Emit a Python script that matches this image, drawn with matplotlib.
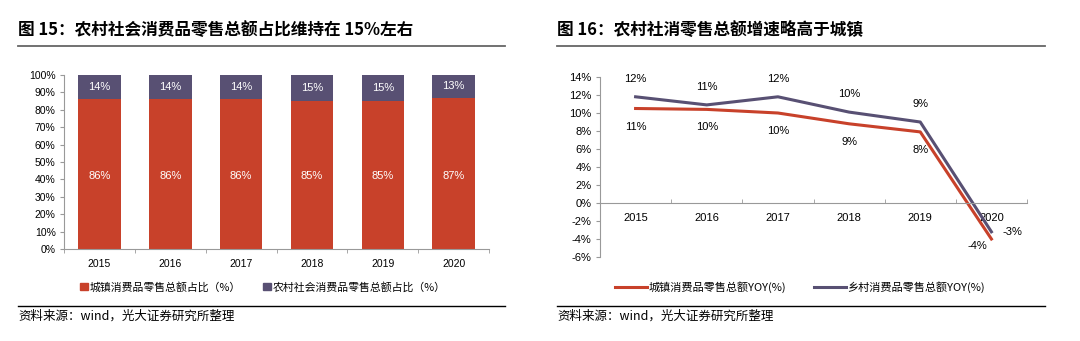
import numpy as np
import matplotlib.pyplot as plt
from matplotlib.lines import Line2D
from matplotlib.patches import Patch

plt.rcParams['font.family'] = ['Liberation Sans', 'Noto Sans CJK SC', 'DejaVu Sans']

years = ['2015', '2016', '2017', '2018', '2019', '2020']
urban_share = [86, 86, 86, 85, 85, 87]
rural_share = [14, 14, 14, 15, 15, 13]
urban_yoy = [10.5, 10.4, 10.0, 8.8, 7.9, -4.0]
rural_yoy = [11.8, 10.9, 11.8, 10.1, 9.0, -3.2]
urban_lbl = ['11%', '10%', '10%', '9%', '8%', '-4%']
rural_lbl = ['12%', '11%', '12%', '10%', '9%', '-3%']

red = '#C8412A'
purple = '#585073'
W, H = 1080, 341
cjk = ['Noto Sans CJK SC', 'DejaVu Sans']

fig = plt.figure(figsize=(W / 100, H / 100), dpi=100)


def px(x0, y0, x1, y1):
    # pixel box (top-left origin) -> figure fraction
    return [x0 / W, 1 - y1 / H, (x1 - x0) / W, (y1 - y0) / H]


def frame(x0, x1, title):
    fig.text(x0 / W, 1 - 30 / H, title, fontsize=12, fontweight='bold',
             family=cjk, va='center', ha='left')
    fig.add_artist(Line2D([x0 / W, x1 / W], [1 - 46 / H] * 2, color='#666666', lw=1.3))
    fig.add_artist(Line2D([x0 / W, x1 / W], [1 - 306 / H] * 2, color='black', lw=1.0))
    fig.text(x0 / W, 1 - 316 / H, '资料来源：wind，光大证券研究所整理', fontsize=9,
             family=cjk, va='center', ha='left')


def style(ax):
    for s in ['top', 'right']:
        ax.spines[s].set_visible(False)
    for s in ['left', 'bottom']:
        ax.spines[s].set_color('#999999')
        ax.spines[s].set_linewidth(0.8)


# ---------- left: stacked bar ----------
ax1 = fig.add_axes(px(64, 75, 489, 249))
x = np.arange(len(years))
ax1.bar(x, urban_share, width=0.6, color=red)
ax1.bar(x, rural_share, bottom=urban_share, width=0.6, color=purple)
for i in range(len(years)):
    ax1.text(x[i], 42, f'{urban_share[i]}%', color='white', ha='center', va='center', fontsize=8)
    ax1.text(x[i], urban_share[i] + rural_share[i] / 2, f'{rural_share[i]}%', color='white',
             ha='center', va='center', fontsize=8)
ax1.set_xlim(-0.5, 5.5)
ax1.set_ylim(0, 100)
ax1.set_yticks(np.arange(0, 101, 10))
ax1.set_yticklabels([f'{v}%' for v in range(0, 101, 10)])
ax1.set_xticks(x)
ax1.set_xticklabels(years)
ax1.set_xticks(np.arange(-0.5, 6, 1), minor=True)
ax1.tick_params(axis='x', which='major', length=0, pad=7, labelsize=7.5)
ax1.tick_params(axis='x', which='minor', length=3, color='#999999', direction='out')
ax1.tick_params(axis='y', length=3, color='#999999', labelsize=7.5, pad=3)
style(ax1)

frame(18, 505, '图 15：农村社会消费品零售总额占比维持在 15%左右')
h1 = [Patch(color=red), Patch(color=purple)]
fig.legend(h1, ['城镇消费品零售总额占比（%）', '农村社会消费品零售总额占比（%）'],
           loc='center', bbox_to_anchor=(263 / W, 1 - 287 / H), ncol=2, frameon=False,
           prop={'family': cjk, 'size': 7.8}, handlelength=0.7, handleheight=0.7,
           handletextpad=0.2, columnspacing=2.0)

# ---------- right: line chart ----------
ax2 = fig.add_axes(px(600, 77, 1027, 257))
ax2.plot(x, urban_yoy, color=red, lw=2.2)
ax2.plot(x, rural_yoy, color=purple, lw=2.2)
for i in range(len(years) - 1):
    ax2.text(x[i], rural_yoy[i] + 2.0, rural_lbl[i], ha='center', va='center', fontsize=8)
    ax2.text(x[i], urban_yoy[i] - 2.0, urban_lbl[i], ha='center', va='center', fontsize=8)
ax2.text(x[5] + 0.3, rural_yoy[5], rural_lbl[5], ha='center', va='center', fontsize=8)
ax2.text(x[5] - 0.2, urban_yoy[5] - 0.8, urban_lbl[5], ha='center', va='center', fontsize=8)
ax2.set_xlim(-0.5, 5.5)
ax2.set_ylim(-6, 14)
ax2.set_yticks(np.arange(-6, 15, 2))
ax2.set_yticklabels([f'{v}%' for v in range(-6, 15, 2)])
ax2.spines['bottom'].set_position(('data', 0))
ax2.set_xticks(x)
ax2.set_xticklabels(years)
ax2.set_xticks(np.arange(-0.5, 6, 1), minor=True)
ax2.tick_params(axis='x', which='major', length=0, pad=7, labelsize=8)
ax2.tick_params(axis='x', which='minor', length=3, color='#999999', direction='in')
ax2.tick_params(axis='y', length=3, color='#999999', labelsize=8, pad=3)
style(ax2)

frame(557, 1045, '图 16：农村社消零售总额增速略高于城镇')
h2 = [Line2D([], [], color=red, lw=2.2), Line2D([], [], color=purple, lw=2.2)]
fig.legend(h2, ['城镇消费品零售总额YOY(%)', '乡村消费品零售总额YOY(%)'],
           loc='center', bbox_to_anchor=(800 / W, 1 - 287 / H), ncol=2, frameon=False,
           prop={'family': cjk, 'size': 8}, handlelength=2.9,
           handletextpad=0.1, columnspacing=2.5)

fig.savefig('out.png', dpi=100)
